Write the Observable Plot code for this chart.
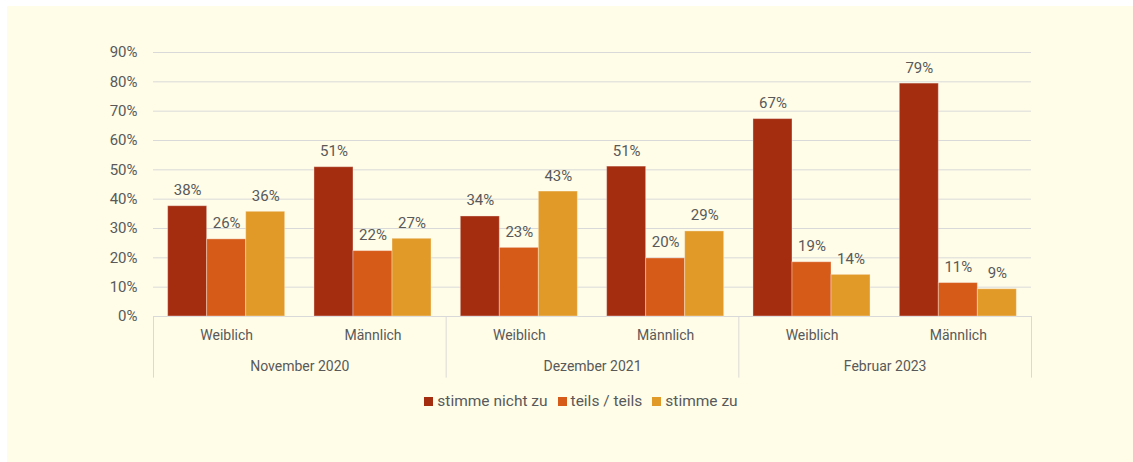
<!DOCTYPE html>
<html><head><meta charset="utf-8">
<script src="https://cdn.jsdelivr.net/npm/d3@7"></script>
<script src="https://cdn.jsdelivr.net/npm/@observablehq/plot@0.6"></script>
<style>
html,body{margin:0;padding:0;background:#fff;}
#panel{position:absolute;left:7px;top:6px;width:1126px;height:456px;background:#FFFDE8;font-family:Roboto,sans-serif;}
#legend{display:flex;justify-content:center;align-items:center;height:30px;padding-left:22px;font-size:15.5px;color:#595959;}
#legend .item{display:flex;align-items:center;margin:0 5px;}
#legend .sw{width:9px;height:9px;margin-right:4px;}
</style></head><body><div id="panel"></div>
<script>
const periods = ["November 2020", "Dezember 2021", "Februar 2023"];
const genders = ["Weiblich", "Männlich"];
const series = ["stimme nicht zu", "teils / teils", "stimme zu"];
const colors = ["#A52D0F", "#D65A18", "#E19A28"];
// order: Nov20 W, Nov20 M, Dez21 W, Dez21 M, Feb23 W, Feb23 M
const nichtZu = [37.6, 50.9, 34.1, 51.1, 67.3, 79.4];
const teils   = [26.3, 22.3, 23.4, 19.8, 18.5, 11.4];
const zu      = [35.7, 26.5, 42.6, 29.0, 14.2, 9.3];
const yTicks = [0, 10, 20, 30, 40, 50, 60, 70, 80, 90];

const seriesValues = [nichtZu, teils, zu];
const rows = [];
periods.forEach((p, pi) => genders.forEach((g, gi) => series.forEach((s, si) => {
  const i = pi * 2 + gi;
  rows.push({i, period: p, gender: g, series: s, s: si, value: seriesValues[si][i]});
})));
const slots = d3.range(periods.length * genders.length);
const bw = 0.8 / series.length;
const gridColor = "#D9D9D9";
const textColor = "#595959";

const chart = Plot.plot({
  width: 1126,
  height: 380,
  marginLeft: 146,
  marginRight: 102,
  marginTop: 46,
  marginBottom: 8.4,
  style: {background: "transparent", fontFamily: "Roboto, sans-serif", fontSize: "14px", color: textColor},
  x: {domain: [0, slots.length], axis: null},
  y: {domain: [-21, 90]},
  color: {domain: series, range: colors},
  marks: [
    Plot.ruleY(yTicks, {stroke: gridColor, strokeWidth: 1}),
    Plot.ruleX(d3.range(0, slots.length + 1, 2), {y1: -21, y2: 0, stroke: gridColor}),
    Plot.rectY(rows, {
      x1: d => d.i + 0.1 + d.s * bw,
      x2: d => d.i + 0.1 + (d.s + 1) * bw,
      y1: 0, y2: "value", fill: "series",
      stroke: "#ffffff", strokeOpacity: 0.35, strokeWidth: 1
    }),
    Plot.text(rows, {
      x: d => d.i + 0.1 + (d.s + 0.5) * bw,
      y: "value",
      text: d => Math.round(d.value) + "%",
      lineAnchor: "bottom", dy: -11, fill: textColor, fontSize: 15
    }),
    Plot.text(slots, {x: i => i + 0.5, y: -6.5, text: i => genders[i % 2], fill: textColor, fontSize: 14}),
    Plot.text(periods, {x: (d, i) => 2 * i + 1, y: -17, text: d => d, fill: textColor, fontSize: 14}),
    Plot.axisY(yTicks, {tickSize: 0, tickPadding: 16, tickFormat: d => d + "%", label: null, fontSize: 15, color: textColor})
  ]
});
const panel = document.getElementById("panel");
panel.appendChild(chart);
const legend = document.createElement("div");
legend.id = "legend";
series.forEach((s, i) => {
  const it = document.createElement("div");
  it.className = "item";
  const sw = document.createElement("span");
  sw.className = "sw";
  sw.style.background = colors[i];
  const t = document.createElement("span");
  t.textContent = s;
  it.appendChild(sw); it.appendChild(t);
  legend.appendChild(it);
});
panel.appendChild(legend);
</script></body></html>
